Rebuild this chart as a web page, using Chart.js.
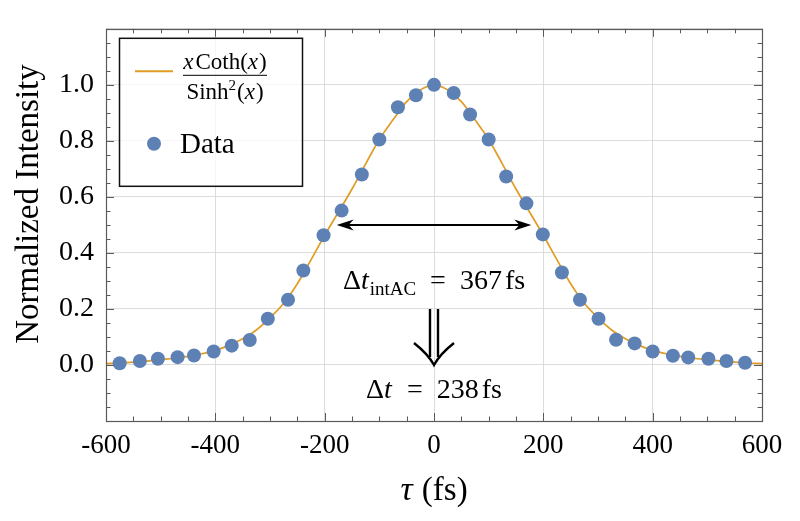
<!DOCTYPE html>
<html>
<head>
<meta charset="utf-8">
<script src="https://cdn.jsdelivr.net/npm/chart.js@4.4.1/dist/chart.umd.min.js"></script>
<style>
  html, body { margin: 0; padding: 0; background: #fff; }
  #wrap { width: 800px; height: 521px; }
</style>
</head>
<body>
<div id="wrap"><canvas id="c" width="800" height="521"></canvas></div>
<script>
// ---- data ----
const tau = [-575,-538,-505,-469,-439,-403,-370,-337,-304,-267,-239,-202,-169,-132,-100,-66,-33,0,
             36,66,100,132,169,199,234,267,301,333,367,400,437,465,502,535,569];
const intensity = [0.006,0.014,0.022,0.028,0.034,0.048,0.069,0.089,0.165,0.233,0.337,0.463,0.551,0.680,0.805,0.920,0.963,1.000,
                   0.971,0.894,0.805,0.673,0.577,0.466,0.330,0.233,0.165,0.090,0.077,0.048,0.033,0.027,0.022,0.014,0.008];

const fitTau = [-600,-575,-550,-525,-500,-475,-450,-425,-400,-375,-350,-325,-300,-275,-250,-225,-200,-175,-150,-125,-100,-75,-50,-25,
                0,25,50,75,100,125,150,175,200,225,250,275,300,325,350,375,400,425,450,475,500,525,550,575,600];
const fitValue = [0.005,0.007,0.010,0.014,0.019,0.024,0.031,0.040,0.052,0.070,0.094,0.125,0.168,0.220,0.290,0.375,0.463,0.545,0.628,0.718,0.805,0.875,0.940,0.982,
                  1.000,0.982,0.940,0.875,0.805,0.718,0.628,0.545,0.463,0.375,0.290,0.220,0.168,0.125,0.094,0.070,0.052,0.040,0.031,0.024,0.019,0.014,0.010,0.007,0.005];

const xTickLabels = ['-600','-400','-200','0','200','400','600'];
const yTickLabels = ['0.0','0.2','0.4','0.6','0.8','1.0'];

const fwhmHalf = 178;          // half-length of the FWHM arrow (fs)
const acText = '367';
const pulseText = '238';

// ---- colours / fonts ----
const ORANGE = '#E19C24';
const BLUE = '#5E81B5';
const SERIF = '"Liberation Serif", "Times New Roman", serif';
const FRAME = '#5a5a5a';

function f(size, italic) { return (italic ? 'italic ' : '') + size + 'px ' + SERIF; }

function runsWidth(ctx, runs) {
  let w = 0;
  for (const r of runs) { ctx.font = r.font; w += ctx.measureText(r.text).width + (r.gap || 0); }
  return w;
}
function drawRuns(ctx, runs, x, y) {
  let cx = x;
  for (const r of runs) {
    ctx.font = r.font;
    ctx.fillText(r.text, cx, y + (r.dy || 0));
    cx += ctx.measureText(r.text).width + (r.gap || 0);
  }
}
function drawRunsCentered(ctx, runs, cx, y) {
  const w = runsWidth(ctx, runs);
  drawRuns(ctx, runs, cx - w / 2, y);
}

function arrowHead(ctx, x, y, dir) {
  const L = 17, h = 5.5;
  ctx.beginPath();
  ctx.moveTo(x, y);
  ctx.lineTo(x + dir * L, y - h);
  ctx.lineTo(x + dir * L * 0.7, y);
  ctx.lineTo(x + dir * L, y + h);
  ctx.closePath();
  ctx.fill();
}

const framePlugin = {
  id: 'framePlugin',
  afterDatasetsDraw(chart) {
    const ctx = chart.ctx;
    const a = chart.chartArea;
    const xs = chart.scales.x, ys = chart.scales.y;
    ctx.save();
    // ticks inside the frame
    ctx.strokeStyle = FRAME;
    ctx.lineWidth = 1;
    for (let v = -600; v <= 600; v += 50) {
      const px = Math.round(xs.getPixelForValue(v)) + 0.5;
      const len = (v % 200 === 0) ? 8 : 4.5;
      ctx.beginPath();
      ctx.moveTo(px, a.bottom); ctx.lineTo(px, a.bottom - len);
      ctx.moveTo(px, a.top); ctx.lineTo(px, a.top + len);
      ctx.stroke();
    }
    for (let k = -4; k <= 24; k++) {
      const v = k * 0.05;
      const py = Math.round(ys.getPixelForValue(v)) + 0.5;
      const len = (k % 4 === 0) ? 8 : 4.5;
      ctx.beginPath();
      ctx.moveTo(a.left, py); ctx.lineTo(a.left + len, py);
      ctx.moveTo(a.right, py); ctx.lineTo(a.right - len, py);
      ctx.stroke();
    }
    // frame
    ctx.lineWidth = 1.2;
    ctx.strokeRect(Math.round(a.left) + 0.5, Math.round(a.top) + 0.5,
                   Math.round(a.right - a.left), Math.round(a.bottom - a.top));

    // ---- annotations ----
    ctx.fillStyle = '#000';
    ctx.strokeStyle = '#000';
    const x0 = xs.getPixelForValue(0);
    // FWHM double arrow
    const ay = ys.getPixelForValue(0.5);
    const xl = xs.getPixelForValue(-fwhmHalf), xr = xs.getPixelForValue(fwhmHalf);
    ctx.lineWidth = 2;
    ctx.beginPath(); ctx.moveTo(xl + 10, ay); ctx.lineTo(xr - 10, ay); ctx.stroke();
    arrowHead(ctx, xl, ay, 1);
    arrowHead(ctx, xr, ay, -1);

    // Δt_intAC = 367 fs
    ctx.textBaseline = 'alphabetic';
    ctx.textAlign = 'left';
    const m = 28;
    drawRunsCentered(ctx, [
      { text: 'Δ', font: f(m) },
      { text: 't', font: f(m, true), gap: 1 },
      { text: 'intAC', font: f(19), dy: 6 },
      { text: '\u2002=\u2002', font: f(m) },
      { text: acText, font: f(m), gap: 3 },
      { text: 'fs', font: f(m) }
    ], x0, ys.getPixelForValue(0.272));

    // double down arrow
    const yTop = ys.getPixelForValue(0.2), yTip = ys.getPixelForValue(0.0);
    ctx.lineWidth = 2.4;
    ctx.beginPath();
    ctx.moveTo(x0 - 4, yTop); ctx.lineTo(x0 - 4, yTip - 8);
    ctx.moveTo(x0 + 4, yTop); ctx.lineTo(x0 + 4, yTip - 8);
    ctx.stroke();
    ctx.beginPath();
    ctx.moveTo(x0 - 20, yTip - 22);
    ctx.quadraticCurveTo(x0 - 6, yTip - 11, x0, yTip);
    ctx.quadraticCurveTo(x0 + 6, yTip - 11, x0 + 20, yTip - 22);
    ctx.stroke();

    // Δt = 238 fs
    drawRunsCentered(ctx, [
      { text: 'Δ', font: f(m) },
      { text: 't', font: f(m, true), gap: 1 },
      { text: '\u2002=\u2002', font: f(m) },
      { text: pulseText, font: f(m), gap: 3 },
      { text: 'fs', font: f(m) }
    ], x0, ys.getPixelForValue(-0.117));

    // ---- legend ----
    const lx = a.left + 13, ly = a.top + 9, lw = 183, lh = 148;
    ctx.fillStyle = 'rgba(255,255,255,0.75)';
    ctx.fillRect(lx, ly, lw, lh);
    ctx.strokeStyle = '#111';
    ctx.lineWidth = 1.5;
    ctx.strokeRect(lx + 0.5, ly + 0.5, lw, lh);
    ctx.strokeStyle = ORANGE;
    ctx.lineWidth = 2;
    ctx.beginPath(); ctx.moveTo(lx + 16, ly + 33.5); ctx.lineTo(lx + 54, ly + 33.5); ctx.stroke();
    ctx.fillStyle = '#000';
    const fs = 23;
    const num = [
      { text: 'x', font: f(fs, true), gap: 2 },
      { text: 'Coth(', font: f(fs) },
      { text: 'x', font: f(fs, true), gap: 1 },
      { text: ')', font: f(fs) }
    ];
    const den = [
      { text: 'Sinh', font: f(fs) },
      { text: '2', font: f(15), dy: -9, gap: 1 },
      { text: '(', font: f(fs) },
      { text: 'x', font: f(fs, true), gap: 1 },
      { text: ')', font: f(fs) }
    ];
    const fcx = lx + 106;
    drawRunsCentered(ctx, num, fcx, ly + 31);
    drawRunsCentered(ctx, den, fcx, ly + 61);
    ctx.strokeStyle = '#000';
    ctx.lineWidth = 1;
    ctx.beginPath(); ctx.moveTo(fcx - 42, ly + 37.5); ctx.lineTo(fcx + 42, ly + 37.5); ctx.stroke();
    ctx.fillStyle = BLUE;
    ctx.beginPath(); ctx.arc(lx + 35, ly + 106, 7, 0, Math.PI * 2); ctx.fill();
    ctx.fillStyle = '#000';
    ctx.font = f(29);
    ctx.fillText('Data', lx + 61, ly + 115);

    // ---- axis titles ----
    drawRunsCentered(ctx, [
      { text: 'τ', font: f(34, true), gap: 1 },
      { text: ' (fs)', font: f(33) }
    ], x0, 500);

    ctx.save();
    ctx.translate(38, 204);
    ctx.rotate(-Math.PI / 2);
    ctx.font = f(33);
    ctx.textAlign = 'center';
    ctx.textBaseline = 'alphabetic';
    ctx.fillText('Normalized Intensity', 0, 0);
    ctx.restore();

    ctx.restore();
  }
};

function isMajor(v, step) { return Math.abs(v / step - Math.round(v / step)) < 1e-6; }

new Chart(document.getElementById('c'), {
  type: 'scatter',
  data: {
    datasets: [
      {
        label: 'Data',
        data: tau.map((t, i) => ({ x: t, y: intensity[i] })),
        pointRadius: 7,
        pointHoverRadius: 7,
        backgroundColor: BLUE,
        borderWidth: 0,
        showLine: false,
        order: 0
      },
      {
        label: 'xCoth(x)/Sinh²(x)',
        data: fitTau.map((t, i) => ({ x: t, y: fitValue[i] })),
        showLine: true,
        pointRadius: 0,
        borderColor: ORANGE,
        borderWidth: 1.7,
        cubicInterpolationMode: 'monotone',
        fill: false,
        order: 1
      }
    ]
  },
  options: {
    responsive: false,
    animation: false,
    events: [],
    layout: { padding: { top: 16, right: 38, left: 0, bottom: 0 } },
    plugins: { legend: { display: false }, tooltip: { enabled: false } },
    scales: {
      x: {
        type: 'linear', min: -600, max: 600,
        afterFit(s) { s.height = 100; },
        afterBuildTicks(s) {
          const t = [];
          for (let v = -600; v <= 600; v += 50) t.push({ value: v });
          s.ticks = t;
        },
        ticks: {
          autoSkip: false, maxRotation: 0, padding: 9,
          color: '#000',
          font: { family: SERIF, size: 27 },
          callback(v) {
            if (!isMajor(v, 200)) return '';
            return xTickLabels[Math.round((v + 600) / 200)];
          }
        },
        grid: {
          drawTicks: false,
          color(ctx) { return isMajor(ctx.tick.value, 200) ? '#dcdcdc' : 'rgba(0,0,0,0)'; },
          lineWidth: 1
        },
        border: { display: false }
      },
      y: {
        type: 'linear', min: -0.2, max: 1.2,
        afterFit(s) { s.width = 106; },
        afterBuildTicks(s) {
          const t = [];
          for (let k = -4; k <= 24; k++) t.push({ value: k * 0.05 });
          s.ticks = t;
        },
        ticks: {
          autoSkip: false, padding: 12,
          color: '#000',
          font: { family: SERIF, size: 28 },
          callback(v) {
            const k = Math.round(v / 0.2);
            if (!isMajor(v, 0.2) || k < 0 || k > 5) return '';
            return yTickLabels[k];
          }
        },
        grid: {
          drawTicks: false,
          color(ctx) { return isMajor(ctx.tick.value, 0.2) ? '#dcdcdc' : 'rgba(0,0,0,0)'; },
          lineWidth: 1
        },
        border: { display: false },
        title: { display: false, text: 'Normalized Intensity' }
      }
    }
  },
  plugins: [framePlugin]
});
</script>
</body>
</html>
